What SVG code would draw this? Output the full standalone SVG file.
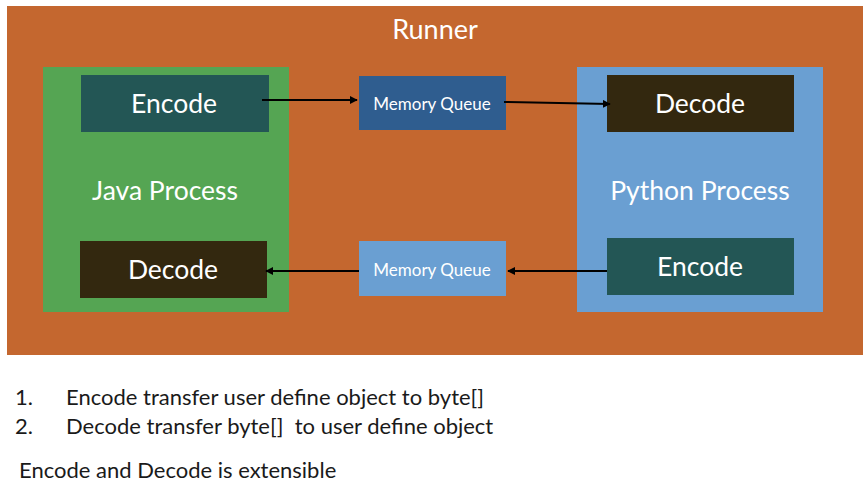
<svg xmlns="http://www.w3.org/2000/svg" width="864" height="499" viewBox="0 0 864 499">
<style>
.w{fill:#fff;font-family:Lato,"Open Sans",sans-serif;text-anchor:middle;dominant-baseline:central}
.big{font-size:26.5px}
.mq{font-size:17px}
.note{fill:#1a1a1a;font-family:Lato,"Open Sans",sans-serif;font-size:22px}
.c{stroke:#000;stroke-width:2;fill:none;marker-end:url(#ah)}
</style>
<defs>
<marker id="ah" viewBox="0 0 10 10" refX="9" refY="5" markerWidth="4" markerHeight="4" orient="auto" markerUnits="strokeWidth">
<path d="M0,0 L10,5 L0,10 z" fill="#000"/>
</marker>
</defs>
<rect width="864" height="499" fill="#fff"/>
<g id="runner">
<rect x="7" y="6" width="856" height="349" fill="#C4672F"/>
<text class="w" x="435" y="28" font-size="27">Runner</text>
</g>
<g id="java-process">
<rect x="43" y="67" width="246" height="245" fill="#55A553"/>
<text class="w big" x="165" y="190">Java Process</text>
</g>
<g id="python-process">
<rect x="577" y="67" width="246" height="245" fill="#6A9FD2"/>
<text class="w big" x="700" y="190">Python Process</text>
</g>
<g id="java-encode">
<rect x="81" y="75" width="188" height="57" fill="#235655"/>
<text class="w big" x="174" y="103">Encode</text>
</g>
<g id="java-decode">
<rect x="80" y="241" width="187" height="57" fill="#33280F"/>
<text class="w big" x="173" y="269">Decode</text>
</g>
<g id="mq-top">
<rect x="359" y="76" width="147" height="54" fill="#2F5D8F"/>
<text class="w mq" x="432" y="103">Memory Queue</text>
</g>
<g id="mq-bottom">
<rect x="359" y="241" width="147" height="55" fill="#6A9FD2"/>
<text class="w mq" x="432" y="269">Memory Queue</text>
</g>
<g id="python-decode">
<rect x="607" y="75" width="187" height="57" fill="#33280F"/>
<text class="w big" x="700" y="103">Decode</text>
</g>
<g id="python-encode">
<rect x="607" y="238" width="187" height="57" fill="#235655"/>
<text class="w big" x="700" y="266">Encode</text>
</g>
<g id="connectors">
<path class="c" d="M262,100 L357,100"/>
<path class="c" d="M504,102 L610,104"/>
<path class="c" d="M607,271 L508,271"/>
<path class="c" d="M359,271 L266,271"/>
</g>
<g id="notes">
<text class="note" x="15" y="405">1.</text>
<text class="note" x="66" y="405">Encode transfer user define object to byte[]</text>
<text class="note" x="15" y="434">2.</text>
<text class="note" x="66" y="434" xml:space="preserve">Decode transfer byte[]  to user define object</text>
<text class="note" x="19" y="478">Encode and Decode is extensible</text>
</g>
</svg>
